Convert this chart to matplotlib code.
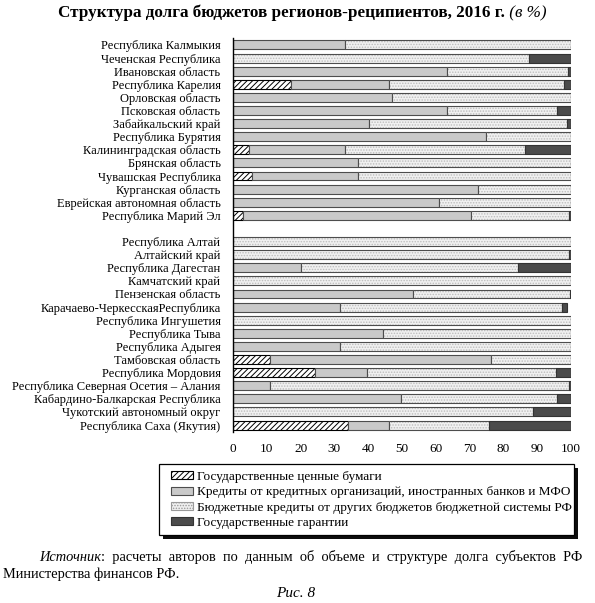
import numpy as np
import matplotlib
matplotlib.use("Agg")
import matplotlib.pyplot as plt
from matplotlib.patches import Patch, Rectangle

plt.rcParams["font.family"] = ["Liberation Serif", "DejaVu Serif"]
plt.rcParams["hatch.linewidth"] = 0.7

# group 1 (upper block)
regions_1 = [
    "Республика Калмыкия", "Чеченская Республика", "Ивановская область",
    "Республика Карелия", "Орловская область", "Псковская область",
    "Забайкальский край", "Республика Бурятия", "Калининградская область",
    "Брянская область", "Чувашская Республика", "Курганская область",
    "Еврейская автономная область", "Республика Марий Эл",
]
securities_1 = [0, 0, 0, 17.3, 0, 0, 0, 0, 4.7, 0, 5.7, 0, 0, 2.9]
credits_1 = [33.1, 0, 63.2, 28.9, 47.1, 63.4, 40.2, 74.9, 28.4, 37.1, 31.2, 72.4, 61.0, 67.5]
budget_1 = [66.9, 87.6, 35.9, 51.8, 52.9, 32.4, 58.7, 25.1, 53.4, 62.9, 63.1, 27.6, 39.0, 28.9]
guarant_1 = [0, 12.4, 0.9, 2.0, 0, 4.2, 1.1, 0, 13.5, 0, 0, 0, 0, 0.7]

# group 2 (lower block)
regions_2 = [
    "Республика Алтай", "Алтайский край", "Республика Дагестан",
    "Камчатский край", "Пензенская область", "Карачаево-ЧеркесскаяРеспублика",
    "Республика Ингушетия", "Республика Тыва", "Республика Адыгея",
    "Тамбовская область", "Республика Мордовия",
    "Республика Северная Осетия – Алания", "Кабардино-Балкарская Республика",
    "Чукотский автономный округ", "Республика Саха (Якутия)",
]
securities_2 = [0, 0, 0, 0, 0, 0, 0, 0, 0, 10.9, 24.2, 0, 0, 0, 34.1]
credits_2 = [0, 0, 20.0, 0, 53.3, 31.7, 0, 44.4, 31.7, 65.3, 15.4, 10.9, 49.7, 0, 12.0]
budget_2 = [100, 99.5, 64.3, 100, 46.3, 65.5, 100, 55.6, 68.3, 23.8, 56.0, 88.4, 46.3, 88.9, 29.7]
guarant_2 = [0, 0.5, 15.7, 0, 0.4, 1.6, 0, 0, 0, 0, 4.4, 0.7, 4.0, 11.1, 24.2]

x_ticks = list(range(0, 101, 10))

legend_labels = [
    "Государственные ценные бумаги",
    "Кредиты от кредитных организаций, иностранных банков и МФО",
    "Бюджетные кредиты от других бюджетов бюджетной системы РФ",
    "Государственные гарантии",
]

regions = regions_1 + regions_2
ypos = np.r_[np.arange(len(regions_1)), np.arange(len(regions_2)) + len(regions_1) + 1]
segs = np.array([securities_1 + securities_2, credits_1 + credits_2,
                 budget_1 + budget_2, guarant_1 + guarant_2], dtype=float)
lefts = np.vstack([np.zeros(segs.shape[1]), np.cumsum(segs, axis=0)[:-1]])

W, H = 595, 603
fig = plt.figure(figsize=(W / 100, H / 100), dpi=100)
ax = fig.add_axes([233 / W, 1 - 432 / H, (571 - 233) / W, (432 - 38) / H])

h = 0.68
edge = "0.3"
# securities: hatched
ax.barh(ypos, segs[0], left=lefts[0], height=h, color="white", edgecolor="black",
        hatch="//////", linewidth=0.8)
# credits: plain gray
ax.barh(ypos, segs[1], left=lefts[1], height=h, color="#c9c9c9", edgecolor=edge, linewidth=0.8)
# budget credits: light dotted
ax.barh(ypos, segs[2], left=lefts[2], height=h, color="#f0f0f0", edgecolor="#bdbdbd",
        hatch="......", linewidth=0)
ax.barh(ypos, segs[2], left=lefts[2], height=h, fill=False, edgecolor=edge, linewidth=0.8)
# guarantees: dark
ax.barh(ypos, segs[3], left=lefts[3], height=h, color="#4b4b4b", edgecolor="0.2", linewidth=0.8)

ax.set_xlim(0, 100)
ax.set_ylim(ypos[-1] + 0.53, -0.53)
ax.set_yticks(ypos)
ax.set_yticklabels(regions, fontsize=9)
ax.set_xticks(x_ticks)
ax.tick_params(axis="y", length=0, pad=9)
ax.tick_params(axis="x", length=0, pad=8, labelsize=9.5)
for s in ["top", "right", "bottom"]:
    ax.spines[s].set_visible(False)
ax.spines["left"].set_linewidth(1.0)

# title: bold part + italic unit
t1 = fig.text(58 / W, 1 - 17 / H, "Структура долга бюджетов регионов-реципиентов, 2016 г.",
              fontsize=12.3, fontweight="bold", ha="left", va="baseline")
ax.annotate(" (в %)", xy=(1, 0), xycoords=t1, fontsize=12.3, style="italic",
            ha="left", va="bottom", annotation_clip=False)

# legend box with shadow
fig.patches.append(Rectangle((163 / W, 1 - 539 / H), (574 - 159) / W, (535 - 464) / H,
                             transform=fig.transFigure, facecolor="0.05", edgecolor="none",
                             zorder=1))
fig.patches.append(Rectangle((159 / W, 1 - 535 / H), (574 - 159) / W, (535 - 464) / H,
                             transform=fig.transFigure, facecolor="white", edgecolor="black",
                             linewidth=0.9, zorder=2))

handles = [
    Patch(facecolor="white", edgecolor="black", hatch="//////", linewidth=0.8),
    Patch(facecolor="#c9c9c9", edgecolor=edge, linewidth=0.8),
    Patch(facecolor="#f0f0f0", edgecolor="#9a9a9a", hatch="......", linewidth=0.8),
    Patch(facecolor="#4b4b4b", edgecolor="0.2", linewidth=0.8),
]
leg = fig.legend(handles, legend_labels, loc="upper left",
                 bbox_to_anchor=(171 / W, 1 - 471 / H), fontsize=9.5,
                 frameon=False, borderpad=0, borderaxespad=0,
                 handlelength=1.64, handleheight=0.55, handletextpad=0.33,
                 labelspacing=0.25)
leg.set_zorder(3)

s1 = fig.text(39 / W, 1 - 561 / H, "Источник", fontsize=10.4, style="italic",
              ha="left", va="baseline")
ax.annotate(":  расчеты  авторов  по  данным  об  объеме  и  структуре  долга  субъектов  РФ",
            xy=(1, 0), xycoords=s1, fontsize=10.4, ha="left", va="bottom",
            annotation_clip=False)
fig.text(3 / W, 1 - 578 / H, "Министерства финансов РФ.", fontsize=10.4,
         ha="left", va="baseline")
fig.text(296 / W, 1 - 597 / H, "Рис. 8", fontsize=11, style="italic",
         ha="center", va="baseline")

fig.savefig("out.png", dpi=100)
